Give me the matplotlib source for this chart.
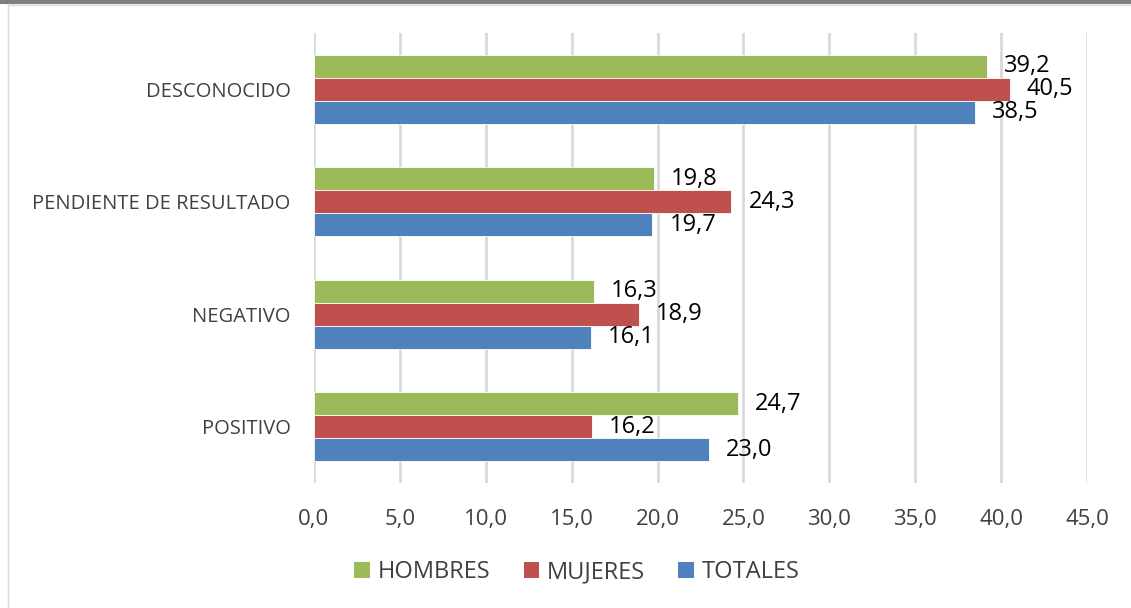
import matplotlib
matplotlib.use("Agg")
import matplotlib.pyplot as plt
from matplotlib.patches import Patch
from matplotlib.lines import Line2D
import numpy as np

categories = ["POSITIVO", "NEGATIVO", "PENDIENTE DE RESULTADO", "DESCONOCIDO"]
hombres = [24.7, 16.3, 19.8, 39.2]
mujeres = [16.2, 18.9, 24.3, 40.5]
totales = [23.0, 16.1, 19.7, 38.5]
series_names = ["HOMBRES", "MUJERES", "TOTALES"]
colors = ["#9BBB59", "#C0504D", "#4F81BD"]
xticks = [0, 5, 10, 15, 20, 25, 30, 35, 40, 45]

plt.rcParams['font.family'] = ['Open Sans', 'DejaVu Sans']

W, H = 1131, 608
fig = plt.figure(figsize=(W / 100, H / 100), dpi=100)
ax = fig.add_axes([314 / W, 1 - 483 / H, (1087 - 314) / W, (483 - 33) / H])

y = np.arange(len(categories))
h = 0.205
offsets = [h, 0, -h]
all_series = [hombres, mujeres, totales]
for vals, off, col, name in zip(all_series, offsets, colors, series_names):
    ax.barh(y + off, vals, height=h, color=col, edgecolor="white",
            linewidth=0.6, label=name, zorder=3)
    for yy, v in zip(y + off, vals):
        ax.annotate(f"{v:.1f}".replace(".", ","), xy=(v, yy), xytext=(17, 0),
                    textcoords="offset pixels", ha="left", va="center",
                    fontsize=17, color="black", zorder=4)

ax.set_xlim(0, 45)
ax.set_ylim(-0.5, 3.5)
ax.set_xticks(xticks)
ax.set_xticklabels([f"{t:.1f}".replace(".", ",") for t in xticks],
                   fontsize=16, color="#404040")
ax.set_yticks(y)
ax.set_yticklabels(categories, fontsize=14.5, color="#404040")
ax.tick_params(axis="x", length=0, pad=19)
ax.tick_params(axis="y", length=0, pad=17)
ax.grid(axis="x", color="#D9D9D9", linewidth=2, zorder=0)
for s in ax.spines.values():
    s.set_visible(False)

handles = [Patch(facecolor=c, edgecolor="none") for c in colors]
fig.legend(handles, series_names, loc="center",
           bbox_to_anchor=(577 / W, 1 - 572 / H), ncol=3, frameon=False,
           fontsize=17, handlelength=0.65, handleheight=0.65,
           handletextpad=0.35, columnspacing=1.4, labelcolor="#404040")

# frame lines
fig.add_artist(Line2D([0, 1], [1 - 1.5 / H, 1 - 1.5 / H], color="#7F7F7F",
                      linewidth=3.0, transform=fig.transFigure))
fig.add_artist(Line2D([7.5 / W, 1], [1 - 4.5 / H, 1 - 4.5 / H], color="#D9D9D9",
                      linewidth=1.0, transform=fig.transFigure))
fig.add_artist(Line2D([7.5 / W, 7.5 / W], [0, 1 - 4.5 / H], color="#D9D9D9",
                      linewidth=1.0, transform=fig.transFigure))

fig.savefig("out.png", dpi=100)
